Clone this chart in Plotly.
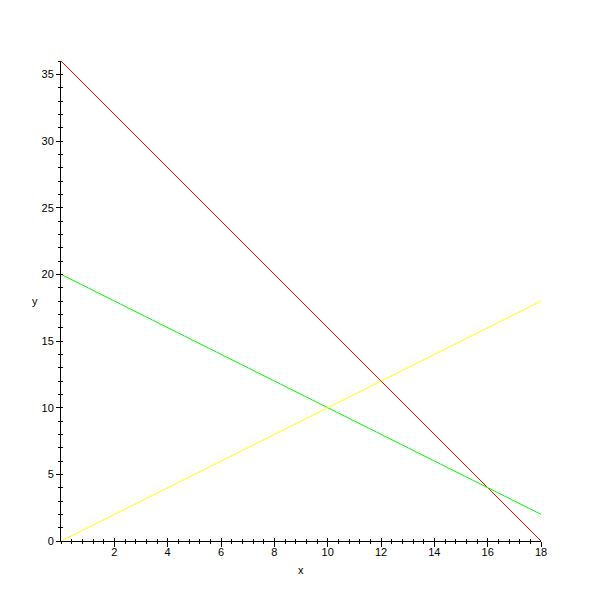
import plotly.graph_objects as go

# Data: three straight lines
x_vals = [0, 18]
line_a = [36, 0]    # steep descending line
line_b = [20, 2]    # shallow descending line
line_c = [0, 18]    # ascending line

x_ticks = [2, 4, 6, 8, 10, 12, 14, 16, 18]
y_ticks = [0, 5, 10, 15, 20, 25, 30, 35]

fig = go.Figure()
fig.add_trace(go.Scatter(x=x_vals, y=line_a, mode="lines",
                         line=dict(color="#FF0000", width=1), showlegend=False))
fig.add_trace(go.Scatter(x=x_vals, y=line_b, mode="lines",
                         line=dict(color="#00FF00", width=1), showlegend=False))
fig.add_trace(go.Scatter(x=x_vals, y=line_c, mode="lines",
                         line=dict(color="#FFFF00", width=1), showlegend=False))

font = dict(family="Liberation Sans, Arial, sans-serif", size=11, color="black")

fig.update_layout(
    width=601, height=601,
    margin=dict(l=53, r=68, t=53, b=68),
    plot_bgcolor="white", paper_bgcolor="white",
    font=font,
    xaxis=dict(range=[0, 18], showgrid=False, zeroline=False,
               showline=True, linecolor="black", linewidth=1,
               tickmode="array", tickvals=x_ticks, ticks="outside",
               ticklen=5, tickwidth=1, tickcolor="black",
               ticklabelstandoff=-4,
               minor=dict(ticks="outside", ticklen=2, dtick=0.4, tick0=0,
                          tickcolor="black", showgrid=False),
               tickfont=font),
    yaxis=dict(range=[0, 36], showgrid=False, zeroline=False,
               showline=True, linecolor="black", linewidth=1,
               tickmode="array", tickvals=y_ticks, ticks="outside",
               ticklen=4, tickwidth=1, tickcolor="black",
               minor=dict(ticks="outside", ticklen=2, dtick=1, tick0=0,
                          tickcolor="black", showgrid=False),
               tickfont=font),
    xaxis2=dict(range=[0, 18], overlaying="x", anchor="y", side="bottom",
                showgrid=False, zeroline=False, showticklabels=False,
                tickmode="array", tickvals=x_ticks, ticks="inside",
                ticklen=3, tickwidth=1, tickcolor="black",
                minor=dict(ticks="inside", ticklen=2, dtick=0.4, tick0=0,
                           tickcolor="black", showgrid=False)),
    yaxis2=dict(range=[0, 36], overlaying="y", anchor="x", side="left",
                showgrid=False, zeroline=False, showticklabels=False,
                tickmode="array", tickvals=y_ticks, ticks="inside",
                ticklen=2, tickwidth=1, tickcolor="black",
                minor=dict(ticks="inside", ticklen=2, dtick=1, tick0=0,
                           tickcolor="black", showgrid=False)),
    annotations=[
        dict(text="x", xref="paper", yref="paper", x=0.5, y=-0.043,
             xanchor="center", yanchor="top", showarrow=False, font=font),
        dict(text="y", xref="paper", yref="paper", x=-0.043, y=0.5,
             xanchor="right", yanchor="middle", showarrow=False, font=font),
    ],
)
# invisible trace to activate overlay axes
fig.add_trace(go.Scatter(x=[None], y=[None], xaxis="x2", yaxis="y2",
                         showlegend=False, hoverinfo="skip"))

fig.write_html("out.html")
